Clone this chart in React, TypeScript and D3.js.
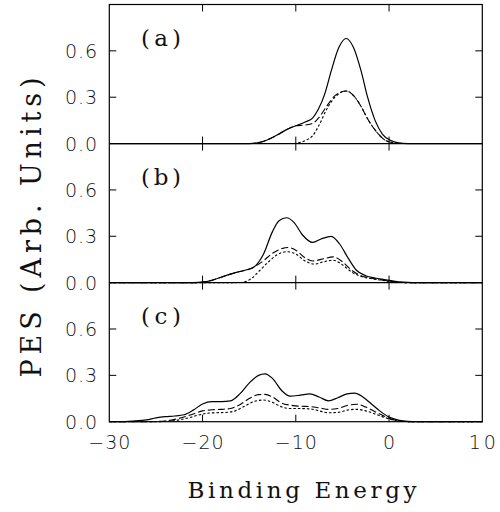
import React from "react";
import * as d3 from "d3";

// ---- data ----
const xTicks = [-30, -20, -10, 0, 10];
const xTickLabels = ["\u221230", "\u221220", "\u221210", "0", "10"];
const yTicks = [0, 0.3, 0.6];
const yTickLabels = ["0.0", "0.3", "0.6"];
const panelLabels = ["(a)", "(b)", "(c)"];

const aSolidX = [-30, -15, -14, -13, -12, -11, -10, -9, -8.2, -7.6, -6.9, -6.2, -5.4, -4.6, -3.8, -3.0, -2.3, -1.5, -0.7, 0.2, 1.0, 2.0, 10];
const aSolidY = [0, 0, 0.006, 0.025, 0.055, 0.09, 0.115, 0.14, 0.165, 0.22, 0.32, 0.47, 0.62, 0.68, 0.62, 0.47, 0.3, 0.15, 0.06, 0.02, 0.005, 0, 0];
const aDashX = [-30, -15, -14, -13, -12, -11, -10, -9, -8.2, -7.5, -6.7, -5.8, -4.6, -3.8, -3.0, -2.3, -1.4, -0.5, 0.5, 1.5, 10];
const aDashY = [0, 0, 0.006, 0.025, 0.055, 0.09, 0.115, 0.12, 0.13, 0.17, 0.24, 0.31, 0.34, 0.31, 0.24, 0.16, 0.08, 0.025, 0.005, 0, 0];
const aDotX = [-30, -10.5, -9.5, -8.8, -8.2, -7.5, -6.7, -5.8, -4.6, -3.8, -3.0, -2.3, -1.4, -0.5, 0.5, 1.5, 10];
const aDotY = [0, 0, 0.008, 0.025, 0.05, 0.12, 0.22, 0.3, 0.34, 0.31, 0.24, 0.16, 0.08, 0.025, 0.005, 0, 0];

const bSolidX = [-30, -21, -20, -19, -18, -17, -16, -15, -14.3, -13.5, -12.5, -11.8, -11, -10.2, -9.3, -8.2, -7.2, -6.2, -5.3, -4.4, -3.5, -2.5, -1.5, -0.5, 0.5, 1.5, 2.5, 10];
const bSolidY = [0, 0, 0.003, 0.015, 0.035, 0.055, 0.072, 0.088, 0.11, 0.18, 0.33, 0.4, 0.42, 0.39, 0.31, 0.26, 0.285, 0.3, 0.25, 0.16, 0.08, 0.045, 0.03, 0.02, 0.01, 0.003, 0, 0];
const bDashX = [-30, -21, -20, -19, -18, -17, -16, -15, -14.5, -13.5, -12.5, -11.5, -10.8, -10, -9, -8.2, -7, -6, -5, -4, -3, -2, -1, 0, 1, 2, 10];
const bDashY = [0, 0, 0.003, 0.015, 0.035, 0.055, 0.072, 0.086, 0.1, 0.14, 0.19, 0.22, 0.227, 0.21, 0.16, 0.14, 0.155, 0.167, 0.135, 0.08, 0.045, 0.03, 0.02, 0.01, 0.003, 0, 0];
const bDotX = [-30, -16.5, -15.5, -14.8, -13.9, -13, -12, -11, -10, -9, -8, -7, -6, -5, -4, -3, -2, -1, 0, 1, 2, 10];
const bDotY = [0, 0, 0.005, 0.025, 0.076, 0.13, 0.18, 0.2, 0.185, 0.14, 0.12, 0.135, 0.145, 0.115, 0.068, 0.04, 0.027, 0.017, 0.008, 0.002, 0, 0];

const cSolidX = [-30, -29, -27.5, -26, -25, -24, -23, -22, -21, -20, -19, -18, -17, -16, -15, -14, -13.3, -12.5, -11.5, -10.6, -9.5, -8.5, -7.5, -6.5, -5.5, -4.5, -3.7, -2.8, -1.8, -1, 0, 1, 2, 3, 10];
const cSolidY = [0, 0, 0.004, 0.012, 0.025, 0.033, 0.037, 0.045, 0.075, 0.115, 0.13, 0.13, 0.135, 0.18, 0.25, 0.3, 0.31, 0.28, 0.2, 0.165, 0.172, 0.18, 0.16, 0.135, 0.155, 0.18, 0.185, 0.16, 0.11, 0.07, 0.03, 0.01, 0.002, 0, 0];
const cDashX = [-30, -26, -24, -23, -22, -21, -20, -19, -18, -17, -16, -15, -14, -13.3, -12.5, -11.5, -10.6, -9.5, -8.5, -7.5, -6.5, -5.5, -4.5, -3.5, -2.5, -1.5, -0.5, 0.5, 1.5, 2.5, 10];
const cDashY = [0, 0, 0.005, 0.015, 0.03, 0.05, 0.07, 0.077, 0.08, 0.085, 0.11, 0.15, 0.175, 0.177, 0.16, 0.12, 0.107, 0.1, 0.098, 0.09, 0.08, 0.085, 0.105, 0.113, 0.095, 0.065, 0.035, 0.012, 0.002, 0, 0];
const cDotX = [-30, -25, -23.5, -22.5, -21.5, -20.5, -19.5, -18.5, -17.5, -16.5, -15.5, -14.5, -13.5, -12.5, -11.5, -10.5, -9.5, -8.5, -7.5, -6.5, -5.5, -4.5, -3.5, -2.5, -1.5, -0.5, 0.5, 1.5, 2.5, 10];
const cDotY = [0, 0, 0.004, 0.012, 0.025, 0.042, 0.055, 0.058, 0.06, 0.07, 0.1, 0.13, 0.14, 0.125, 0.095, 0.085, 0.085, 0.083, 0.07, 0.058, 0.06, 0.075, 0.08, 0.07, 0.05, 0.028, 0.01, 0.002, 0, 0];

const panels = [
  { label: panelLabels[0], solid: [aSolidX, aSolidY], dash: [aDashX, aDashY], dot: [aDotX, aDotY] },
  { label: panelLabels[1], solid: [bSolidX, bSolidY], dash: [bDashX, bDashY], dot: [bDotX, bDotY] },
  { label: panelLabels[2], solid: [cSolidX, cSolidY], dash: [cDashX, cDashY], dot: [cDotX, cDotY] },
];

// ---- layout ----
const W = 500, H = 512;
const left = 109.3, right = 482.3;
const top = 4.5, bottom = 421.7;
const panelH = (bottom - top) / 3;
const tickLen = 7;

export default function App() {
  const x = d3.scaleLinear().domain([-30, 10]).range([left, right]);
  const sans = "DejaVu Sans";
  const serif = "DejaVu Serif";

  return (
    <svg width={W} height={H} style={{ position: "absolute", left: 0, top: 0, background: "#fff" }}>
      <rect x={0} y={0} width={W} height={H} fill="#fff" />
      {panels.map((p, i) => {
        const pt = top + i * panelH;
        const pb = pt + panelH;
        const y = d3.scaleLinear().domain([0, 0.9]).range([pb, pt]);
        const line = (xs: number[], ys: number[]) =>
          d3
            .line<number>()
            .x((_, k) => x(xs[k]))
            .y((v) => y(v))
            .curve(d3.curveMonotoneX)(ys) || "";
        return (
          <g key={i}>
            {xTicks.slice(1, -1).map((t) => (
              <g key={t}>
                <line x1={x(t)} x2={x(t)} y1={pt} y2={pt + tickLen} stroke="#000" strokeWidth={1} />
                <line x1={x(t)} x2={x(t)} y1={pb} y2={pb - tickLen} stroke="#000" strokeWidth={1} />
              </g>
            ))}
            {yTicks.slice(1).map((t) => (
              <g key={t}>
                <line x1={left} x2={left + tickLen} y1={y(t)} y2={y(t)} stroke="#000" strokeWidth={1} />
                <line x1={right} x2={right - tickLen} y1={y(t)} y2={y(t)} stroke="#000" strokeWidth={1} />
              </g>
            ))}
            {yTicks.map((t, k) => (
              <text
                key={t}
                x={97}
                y={y(t) + 7}
                textAnchor="end"
                fontFamily={sans}
                fontWeight={300}
                fontSize={19}
                textLength={32}
                lengthAdjust="spacing"
                fill="#111"
              >
                {yTickLabels[k]}
              </text>
            ))}
            <path d={line(p.solid[0], p.solid[1])} fill="none" stroke="#000" strokeWidth={1.2} />
            <path d={line(p.dash[0], p.dash[1])} fill="none" stroke="#000" strokeWidth={1.1} strokeDasharray="7,3" />
            <path d={line(p.dot[0], p.dot[1])} fill="none" stroke="#000" strokeWidth={1.1} strokeDasharray="2.5,2" />
            <text
              x={141}
              y={pt + 41}
              fontFamily={serif}
              fontSize={23}
              textLength={40}
              lengthAdjust="spacing"
              fill="#111"
            >
              {p.label}
            </text>
          </g>
        );
      })}
      <rect x={left} y={top} width={right - left} height={bottom - top} fill="none" stroke="#000" strokeWidth={1.2} />
      {[1, 2].map((i) => (
        <line key={i} x1={left} x2={right} y1={top + i * panelH} y2={top + i * panelH} stroke="#000" strokeWidth={1.2} />
      ))}
      {xTicks.map((t, k) => {
        const lab = xTickLabels[k];
        const len = lab.length === 3 ? 42 : lab.length === 2 ? 27 : undefined;
        return (
          <text
            key={t}
            x={x(t)}
            y={448.5}
            textAnchor="middle"
            fontFamily={sans}
            fontWeight={300}
            fontSize={19}
            textLength={len}
            lengthAdjust="spacing"
            fill="#111"
          >
            {lab}
          </text>
        );
      })}
      <text
        x={302}
        y={498}
        textAnchor="middle"
        fontFamily={serif}
        fontSize={23}
        textLength={229}
        lengthAdjust="spacing"
        fill="#111"
      >
        Binding Energy
      </text>
      <text
        transform="translate(41,227.5) rotate(-90)"
        textAnchor="middle"
        fontFamily={serif}
        fontSize={27}
        textLength={300}
        lengthAdjust="spacing"
        fill="#111"
      >
        PES (Arb. Units)
      </text>
    </svg>
  );
}
